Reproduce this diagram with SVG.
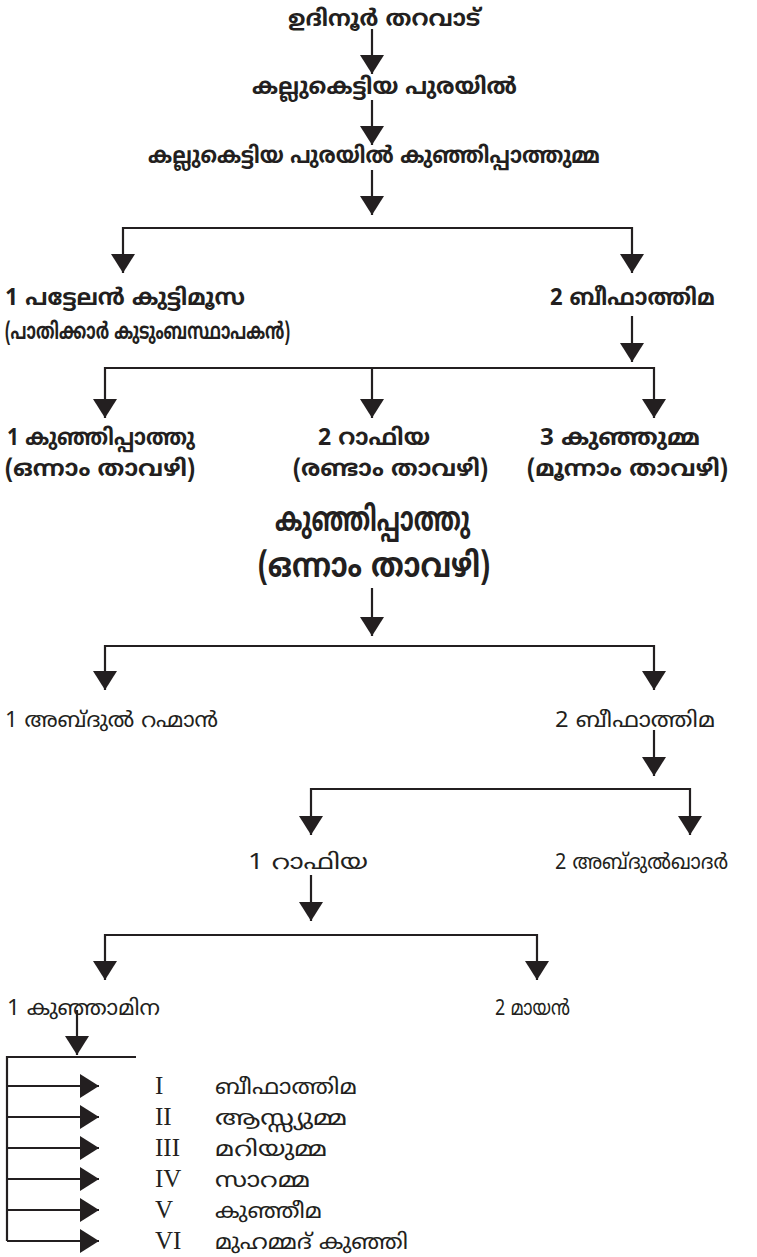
<svg xmlns="http://www.w3.org/2000/svg" width="757" height="1257" viewBox="0 0 757 1257">
<style>
.t{font-family:"Noto Sans Malayalam","Noto Sans","Noto Sans CJK SC",sans-serif;fill:#231f20}
.b{font-weight:bold;font-size:23px}
.big{font-weight:bold;font-size:34px}
.r{font-size:21px}
.n{font-family:"Liberation Serif",serif;font-size:25px;fill:#231f20}
.ln{stroke:#231f20;stroke-width:2.2;fill:none}
</style>
<defs>
<marker id="ah" markerUnits="userSpaceOnUse" markerWidth="20" markerHeight="24" refX="19" refY="12" orient="auto-start-reverse" viewBox="0 0 20 24">
<path d="M0,0 L19,12 L0,24 z" fill="#231f20"/>
</marker>
</defs>
<g id="connectors">
<line class="ln" x1="372" y1="29" x2="372" y2="74" marker-end="url(#ah)"/>
<line class="ln" x1="372" y1="100" x2="372" y2="145" marker-end="url(#ah)"/>
<line class="ln" x1="372" y1="170" x2="372" y2="215" marker-end="url(#ah)"/>
<polyline class="ln" points="123,273 123,228 632,228 632,273" marker-start="url(#ah)" marker-end="url(#ah)"/>
<line class="ln" x1="632" y1="316" x2="632" y2="362" marker-end="url(#ah)"/>
<polyline class="ln" points="105,418 105,368 654,368 654,418" marker-start="url(#ah)" marker-end="url(#ah)"/>
<line class="ln" x1="372" y1="368" x2="372" y2="418" marker-end="url(#ah)"/>
<line class="ln" x1="372" y1="588" x2="372" y2="636" marker-end="url(#ah)"/>
<polyline class="ln" points="105,690 105,646 654,646 654,690" marker-start="url(#ah)" marker-end="url(#ah)"/>
<line class="ln" x1="654" y1="730" x2="654" y2="776" marker-end="url(#ah)"/>
<polyline class="ln" points="311,835 311,789 690,789 690,835" marker-start="url(#ah)" marker-end="url(#ah)"/>
<line class="ln" x1="311" y1="875" x2="311" y2="921" marker-end="url(#ah)"/>
<polyline class="ln" points="105,980 105,935 537,935 537,980" marker-start="url(#ah)" marker-end="url(#ah)"/>
<line class="ln" x1="77" y1="1010" x2="77" y2="1055" marker-end="url(#ah)"/>
<polyline class="ln" points="136,1057 7,1057 7,1241"/>
<line class="ln" x1="7" y1="1086" x2="99" y2="1086" marker-end="url(#ah)"/>
<line class="ln" x1="7" y1="1117" x2="99" y2="1117" marker-end="url(#ah)"/>
<line class="ln" x1="7" y1="1148" x2="99" y2="1148" marker-end="url(#ah)"/>
<line class="ln" x1="7" y1="1179" x2="99" y2="1179" marker-end="url(#ah)"/>
<line class="ln" x1="7" y1="1210" x2="99" y2="1210" marker-end="url(#ah)"/>
<line class="ln" x1="7" y1="1241" x2="99" y2="1241" marker-end="url(#ah)"/>
</g>
<g id="n1"><text class="t b" x="288" y="26" textLength="192" lengthAdjust="spacingAndGlyphs">ഉദിനൂർ തറവാട്</text></g>
<g id="n2"><text class="t b" x="252" y="94" textLength="265" lengthAdjust="spacingAndGlyphs">കല്ലുകെട്ടിയ പുരയിൽ</text></g>
<g id="n3"><text class="t b" x="148" y="163" textLength="452" lengthAdjust="spacingAndGlyphs">കല്ലുകെട്ടിയ പുരയിൽ കുഞ്ഞിപ്പാത്തുമ്മ</text></g>
<g id="n4"><text class="t b" x="5" y="305" textLength="240" lengthAdjust="spacingAndGlyphs">1 പട്ടേലൻ കുട്ടിമൂസ</text><text class="t b" x="5" y="339" textLength="285" lengthAdjust="spacingAndGlyphs">(പാതിക്കാർ കുടുംബസ്ഥാപകൻ)</text></g>
<g id="n5"><text class="t b" x="550" y="305" textLength="165" lengthAdjust="spacingAndGlyphs">2 ബീഫാത്തിമ</text></g>
<g id="n6"><text class="t b" x="7" y="445" textLength="188" lengthAdjust="spacingAndGlyphs">1 കുഞ്ഞിപ്പാത്തു</text><text class="t b" x="5" y="476" textLength="190" lengthAdjust="spacingAndGlyphs">(ഒന്നാം താവഴി)</text></g>
<g id="n7"><text class="t b" x="318" y="445" textLength="112" lengthAdjust="spacingAndGlyphs">2 റാഫിയ</text><text class="t b" x="293" y="476" textLength="195" lengthAdjust="spacingAndGlyphs">(രണ്ടാം താവഴി)</text></g>
<g id="n8"><text class="t b" x="540" y="445" textLength="160" lengthAdjust="spacingAndGlyphs">3 കുഞ്ഞുമ്മ</text><text class="t b" x="527" y="476" textLength="201" lengthAdjust="spacingAndGlyphs">(മൂന്നാം താവഴി)</text></g>
<g id="n9"><text class="t big" x="275" y="531" textLength="195" lengthAdjust="spacingAndGlyphs">കുഞ്ഞിപ്പാത്തു</text><text class="t big" x="258" y="577" textLength="232" lengthAdjust="spacingAndGlyphs">(ഒന്നാം താവഴി)</text></g>
<g id="n10"><text class="t r" x="5" y="727" textLength="213" lengthAdjust="spacingAndGlyphs">1 അബ്ദുൽ റഹ്മാൻ</text></g>
<g id="n11"><text class="t r" x="555" y="727" textLength="160" lengthAdjust="spacingAndGlyphs">2 ബീഫാത്തിമ</text></g>
<g id="n12"><text class="t r" x="248" y="869" textLength="120" lengthAdjust="spacingAndGlyphs">1 റാഫിയ</text></g>
<g id="n13"><text class="t r" x="555" y="869" textLength="173" lengthAdjust="spacingAndGlyphs">2 അബ്ദുൽഖാദർ</text></g>
<g id="n14"><text class="t r" x="7" y="1015" textLength="153" lengthAdjust="spacingAndGlyphs">1 കുഞ്ഞാമിന</text></g>
<g id="n15"><text class="t r" x="495" y="1015" textLength="75" lengthAdjust="spacingAndGlyphs">2 മായൻ</text></g>
<g id="list">
<text class="n" x="155" y="1094">I</text><text class="t r" x="215" y="1094" textLength="142" lengthAdjust="spacingAndGlyphs">ബീഫാത്തിമ</text>
<text class="n" x="155" y="1125">II</text><text class="t r" x="215" y="1125" textLength="132" lengthAdjust="spacingAndGlyphs">ആസ്സ്യുമ്മ</text>
<text class="n" x="155" y="1156">III</text><text class="t r" x="215" y="1156" textLength="112" lengthAdjust="spacingAndGlyphs">മറിയുമ്മ</text>
<text class="n" x="155" y="1187">IV</text><text class="t r" x="215" y="1187" textLength="95" lengthAdjust="spacingAndGlyphs">സാറമ്മ</text>
<text class="n" x="155" y="1218">V</text><text class="t r" x="215" y="1218" textLength="107" lengthAdjust="spacingAndGlyphs">കുഞ്ഞീമ</text>
<text class="n" x="155" y="1249">VI</text><text class="t r" x="215" y="1249" textLength="193" lengthAdjust="spacingAndGlyphs">മുഹമ്മദ് കുഞ്ഞി</text>
</g>
</svg>
